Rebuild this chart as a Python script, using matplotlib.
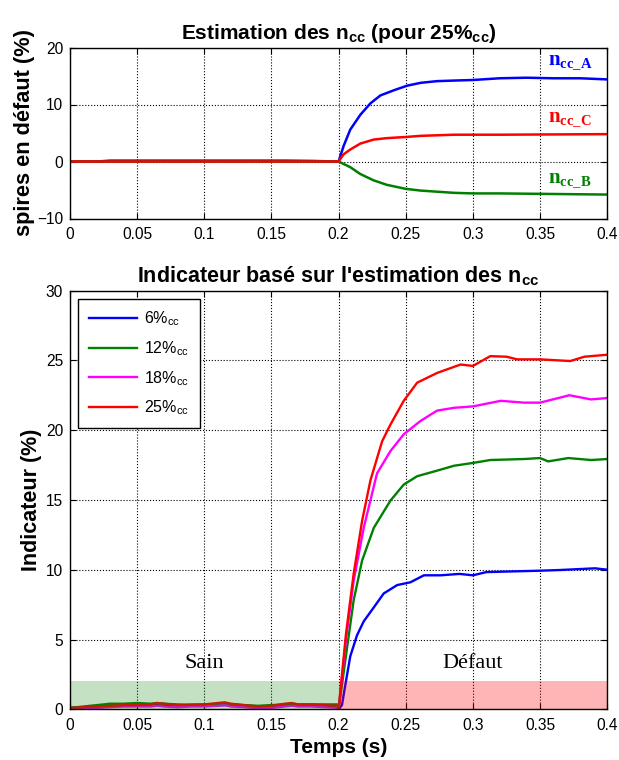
import matplotlib
matplotlib.use("Agg")
import matplotlib.pyplot as plt
from matplotlib.patches import Rectangle

plt.rcParams['font.family'] = ['Liberation Sans', 'DejaVu Sans']
plt.rcParams['mathtext.fontset'] = 'custom'
plt.rcParams['mathtext.rm'] = 'Liberation Sans'
plt.rcParams['mathtext.sf'] = 'Liberation Sans:bold'
plt.rcParams['mathtext.bf'] = 'Liberation Serif:bold'
plt.rcParams['mathtext.it'] = 'Liberation Sans:italic'

# ---------------- Top plot data (estimation des n_cc, 25%cc) ----------------
tA = [0, 0.02, 0.03, 0.045, 0.07, 0.1, 0.13, 0.16, 0.18, 0.199, 0.2, 0.2037, 0.2087, 0.2162, 0.2237,
      0.2312, 0.2412, 0.251, 0.261, 0.2734, 0.286, 0.3, 0.32, 0.34, 0.36, 0.38, 0.4]
nA = [0.0, 0.0, 0.15, 0.15, 0.15, 0.15, 0.15, 0.15, 0.1, 0.0, 0.0, 2.7, 5.6, 8.2, 10.2,
      11.6, 12.5, 13.3, 13.8, 14.1, 14.2, 14.3, 14.6, 14.7, 14.6, 14.6, 14.4]
tC = [0, 0.199, 0.2, 0.2037, 0.2087, 0.2162, 0.2262, 0.236, 0.25, 0.261, 0.286, 0.32, 0.36, 0.4]
nC = [0.0, 0.0, 0.0, 1.26, 2.1, 3.15, 3.85, 4.1, 4.3, 4.5, 4.7, 4.7, 4.75, 4.8]
tB = [0, 0.199, 0.2, 0.2087, 0.2162, 0.226, 0.236, 0.25, 0.261, 0.2734, 0.286, 0.3, 0.32, 0.36, 0.4]
nB = [0.0, 0.0, 0.0, -1.0, -2.2, -3.3, -4.1, -4.8, -5.1, -5.3, -5.5, -5.6, -5.6, -5.7, -5.8]

# ---------------- Bottom plot data (indicateur) ----------------
t_pre = [0, 0.01, 0.02, 0.03, 0.04, 0.05, 0.06, 0.065, 0.07, 0.08, 0.09, 0.1, 0.11, 0.115,
         0.12, 0.13, 0.14, 0.15, 0.16, 0.165, 0.17, 0.18, 0.19, 0.199]

t25 = t_pre + [0.2, 0.2055, 0.2112, 0.2175, 0.2237, 0.2324, 0.2386, 0.2485, 0.2585, 0.2734,
               0.2908, 0.3, 0.3129, 0.325, 0.333, 0.35, 0.3725, 0.383, 0.4]
v25 = [0.1, 0.15, 0.2, 0.25, 0.3, 0.3, 0.35, 0.45, 0.4, 0.3, 0.35, 0.35, 0.45, 0.5,
       0.4, 0.3, 0.2, 0.25, 0.4, 0.45, 0.35, 0.35, 0.3, 0.25,
       0.0, 5.4, 9.7, 13.5, 16.4, 19.2, 20.4, 22.1, 23.4, 24.1,
       24.7, 24.6, 25.3, 25.26, 25.07, 25.07, 24.95, 25.26, 25.4]

t18 = t_pre + [0.2, 0.2055, 0.2112, 0.2187, 0.2286, 0.2386, 0.2485, 0.261, 0.2734, 0.286,
               0.3, 0.3207, 0.338, 0.35, 0.3718, 0.388, 0.4]
v18 = [0.05, 0.1, 0.1, 0.15, 0.2, 0.2, 0.2, 0.25, 0.2, 0.15, 0.2, 0.2, 0.25, 0.3,
       0.2, 0.15, 0.05, 0.1, 0.2, 0.25, 0.2, 0.2, 0.15, 0.1,
       0.0, 5.0, 9.2, 13.0, 16.9, 18.5, 19.7, 20.66, 21.4, 21.6,
       21.7, 22.1, 21.97, 21.97, 22.5, 22.2, 22.3]

t12 = t_pre + [0.2, 0.205, 0.2112, 0.2175, 0.2262, 0.2386, 0.2485, 0.2585, 0.2734, 0.286,
               0.3, 0.313, 0.338, 0.35, 0.356, 0.371, 0.388, 0.4]
v12 = [0.1, 0.2, 0.3, 0.4, 0.4, 0.45, 0.4, 0.45, 0.4, 0.35, 0.3, 0.35, 0.35, 0.4,
       0.35, 0.3, 0.25, 0.3, 0.35, 0.4, 0.35, 0.35, 0.35, 0.35,
       0.0, 3.5, 7.8, 10.66, 13.0, 14.95, 16.1, 16.7, 17.1, 17.45,
       17.65, 17.86, 17.93, 18.0, 17.76, 18.0, 17.86, 17.93]

t6 = t_pre + [0.2, 0.2025, 0.206, 0.2087, 0.2137, 0.2187, 0.2262, 0.2336, 0.2436, 0.2535,
              0.2635, 0.276, 0.29, 0.3, 0.31, 0.338, 0.35, 0.365, 0.391, 0.4]
v6 = [0.1, 0.15, 0.2, 0.25, 0.25, 0.3, 0.25, 0.3, 0.25, 0.25, 0.3, 0.3, 0.3, 0.3,
      0.3, 0.25, 0.2, 0.25, 0.3, 0.3, 0.25, 0.25, 0.25, 0.2,
      0.0, 0.3, 2.3, 3.8, 5.3, 6.3, 7.3, 8.3, 8.9, 9.1,
      9.6, 9.6, 9.7, 9.6, 9.83, 9.9, 9.93, 9.98, 10.1, 10.0]

legend_labels = ['6%$_{\\mathrm{cc}}$', '12%$_{\\mathrm{cc}}$', '18%$_{\\mathrm{cc}}$', '25%$_{\\mathrm{cc}}$']
xticks = [0, 0.05, 0.1, 0.15, 0.2, 0.25, 0.3, 0.35, 0.4]
xticklabels = ['0', '0.05', '0.1', '0.15', '0.2', '0.25', '0.3', '0.35', '0.4']

BLUE, GREEN, MAG, RED = '#0000ff', '#008000', '#ff00ff', '#ff0000'

fig = plt.figure(figsize=(6.19, 7.6), dpi=100)
ax1 = fig.add_axes([0.113, 0.7125, 0.868, 0.225])
ax2 = fig.add_axes([0.113, 0.0667, 0.868, 0.551])


def style(ax):
    ax.set_xlim(0, 0.4)
    ax.set_xticks(xticks)
    ax.set_xticklabels(xticklabels)
    ax.grid(True, color='black', linestyle=':', linewidth=0.8)
    ax.tick_params(direction='in', top=True, right=True, labelsize=11.2, length=4, pad=6)
    ax.tick_params(axis='y', pad=5)
    for s in ax.spines.values():
        s.set_linewidth(1.0)
        s.set_zorder(10)
    ax.set_axisbelow(True)


# top
ax1.plot(tA, nA, color=BLUE, lw=1.8)
ax1.plot(tB, nB, color=GREEN, lw=1.8)
ax1.plot(tC, nC, color=RED, lw=1.8)
ax1.set_ylim(-10, 20)
ax1.set_yticks([-10, 0, 10, 20])
style(ax1)
ax1.set_title('Estimation des n$_{\\mathsf{cc}}$ (pour 25%$_{\\mathsf{cc}}$)', fontsize=15,
              fontweight='bold', pad=6)
ax1.set_ylabel('spires en défaut (%)', fontsize=15.7, fontweight='bold', labelpad=1)
ax1.text(0.356, 17.6, '$\\mathbf{n_{cc\\_A}}$', color=BLUE, fontsize=15, va='center', ha='left')
ax1.text(0.356, 7.6, '$\\mathbf{n_{cc\\_C}}$', color=RED, fontsize=15, va='center', ha='left')
ax1.text(0.356, -3.1, '$\\mathbf{n_{cc\\_B}}$', color=GREEN, fontsize=15, va='center', ha='left')

# bottom
l1, = ax2.plot(t6, v6, color=BLUE, lw=1.7)
l2, = ax2.plot(t12, v12, color=GREEN, lw=1.7)
l3, = ax2.plot(t18, v18, color=MAG, lw=1.7)
l4, = ax2.plot(t25, v25, color=RED, lw=1.7)
ax2.add_patch(Rectangle((0, 0), 0.2, 2, facecolor=GREEN, alpha=0.23, edgecolor='none', zorder=5))
ax2.add_patch(Rectangle((0.2, 0), 0.2, 2, facecolor=RED, alpha=0.29, edgecolor='none', zorder=5))
ax2.set_ylim(0, 30)
ax2.set_yticks([0, 5, 10, 15, 20, 25, 30])
style(ax2)
ax2.set_title("Indicateur basé sur l'estimation des n$_{\\mathsf{cc}}$", fontsize=15.5,
              fontweight='bold', pad=6)
ax2.set_ylabel('Indicateur (%)', fontsize=15.5, fontweight='bold', labelpad=3)
ax2.set_xlabel('Temps (s)', fontsize=15, fontweight='bold', labelpad=4)
ax2.text(0.1, 3.3, 'Sain', fontsize=16, family='Liberation Serif', ha='center', va='center', zorder=6)
ax2.text(0.3, 3.3, 'Défaut', fontsize=16, family='Liberation Serif', ha='center', va='center', zorder=6)

leg = ax2.legend([l1, l2, l3, l4], legend_labels, loc='upper left',
                 bbox_to_anchor=(8 / 537, 1 - 8 / 420), borderaxespad=0,
                 fontsize=11.5, frameon=True, fancybox=False, edgecolor='black', framealpha=1,
                 handlelength=3.0, labelspacing=0.68, borderpad=0.7, handletextpad=0.45)
leg.get_frame().set_linewidth(1.0)
leg.set_zorder(20)

fig.savefig('out.png', dpi=100)
